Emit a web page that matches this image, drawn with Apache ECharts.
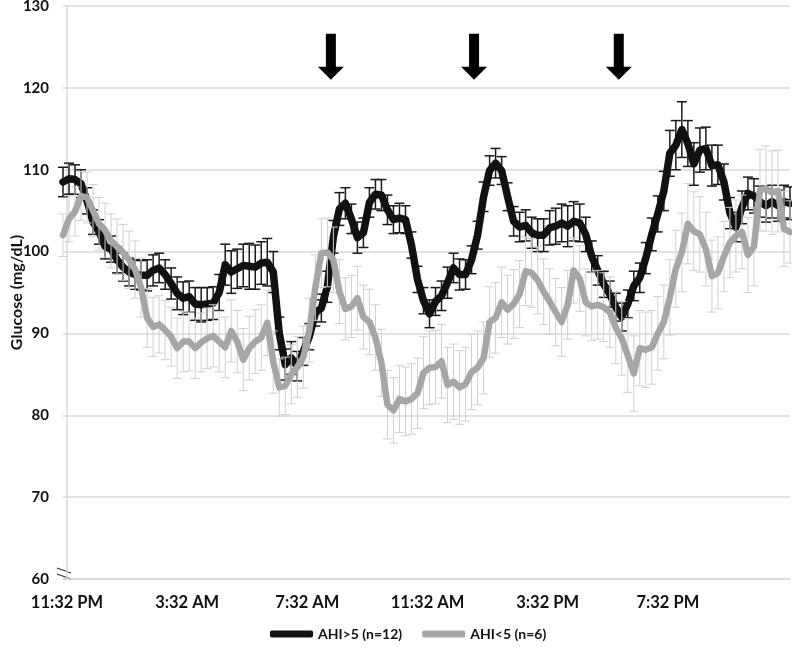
<!DOCTYPE html>
<html><head><meta charset="utf-8">
<script src="https://cdn.jsdelivr.net/npm/echarts@6/dist/echarts.min.js"></script>
<style>html,body{margin:0;padding:0;background:#fff}#c{width:792px;height:647px}</style>
</head><body><div id="c"></div>
<script>
// minutes relative to 11:32 PM; samples every 12 minutes starting at 11:24 PM
const startMinute = -8;
const stepMinutes = 12;
const xTickMinutes = [0, 240, 480, 720, 960, 1200];
const xTickLabels = ['11:32 PM', '3:32 AM', '7:32 AM', '11:32 AM', '3:32 PM', '7:32 PM'];
const yTicks = [60, 70, 80, 90, 100, 110, 120, 130];

const seriesNames = ['AHI>5 (n=12)', 'AHI<5 (n=6)'];

const ahiHigh = [
 108.5,108.9,108.8,108.3,106.2,103.6,102.4,100.6,100.3,99.0,
 98.1,97.5,97.2,97.1,97.1,97.7,98.0,97.2,96.1,94.9,
 94.3,94.5,93.6,93.5,93.6,93.7,95.0,98.4,97.5,97.9,
 98.3,98.2,98.1,98.6,98.7,97.5,90.0,86.2,87.0,86.0,
 87.8,89.6,92.5,93.1,95.7,101.8,105.2,105.9,104.0,101.7,
 102.3,106.0,107.0,106.9,105.1,103.9,104.1,103.9,100.8,96.6,
 94.0,92.4,93.9,94.6,96.2,98.0,97.2,97.2,99.0,102.0,
 106.7,109.9,110.8,109.9,106.7,103.7,103.0,103.2,102.3,102.0,
 102.0,102.9,103.1,103.5,103.1,103.7,103.5,102.1,99.4,97.7,
 96.0,94.8,93.2,92.0,93.6,95.8,96.8,99.2,102.1,104.6,
 107.4,112.0,113.0,114.9,113.2,110.7,112.4,112.6,110.5,110.6,
 108.5,104.7,103.0,105.4,107.1,106.8,106.1,105.6,106.1,105.6,
 106.1,105.9
];
const ahiHighSem = [
 1.8,1.9,1.8,1.7,1.6,1.5,1.5,1.5,1.6,1.6,
 1.7,1.7,1.8,1.8,1.9,1.9,1.8,1.8,1.9,2.0,
 2.0,1.9,2.0,2.1,2.0,2.0,2.2,2.5,2.6,2.4,
 2.6,2.8,2.7,2.6,2.9,2.5,2.0,1.9,2.0,1.8,
 1.7,1.6,1.6,1.7,1.9,2.0,2.0,1.9,1.8,1.9,
 1.8,1.8,1.8,1.9,1.8,1.7,1.8,1.7,1.6,1.6,
 1.6,1.7,1.7,1.8,1.9,1.8,1.9,1.8,1.7,1.7,
 1.8,1.8,1.8,1.7,1.7,1.8,1.8,1.9,1.9,2.0,
 2.0,2.1,2.2,2.3,2.5,2.4,2.3,2.1,1.9,1.8,
 1.6,1.6,1.7,1.7,1.7,1.8,1.8,1.9,2.0,2.2,
 2.4,2.8,3.0,3.4,2.8,2.6,2.7,2.6,2.5,2.4,
 2.2,1.9,1.8,2.0,2.0,2.1,1.9,2.0,2.0,1.9,
 2.0,2.0
];
const ahiLow = [
 102.0,104.0,104.9,106.8,106.6,105.0,103.4,102.6,101.3,100.6,
 99.9,99.0,97.8,95.6,91.9,90.8,91.1,90.4,89.6,88.2,
 89.0,89.0,88.2,88.9,89.4,89.7,89.0,88.3,90.3,89.0,
 86.8,88.2,89.0,89.5,91.3,86.5,83.4,83.6,85.0,85.9,
 87.1,90.4,95.6,99.8,99.9,99.0,95.1,93.0,93.3,94.3,
 92.0,91.4,89.5,86.4,81.3,80.6,82.0,81.7,82.0,82.7,
 85.2,85.8,85.9,86.6,83.7,84.1,83.4,83.8,85.3,85.8,
 87.0,91.4,91.9,93.8,92.9,93.6,94.8,97.6,97.4,96.5,
 95.1,93.9,92.6,91.4,93.5,97.7,96.7,93.8,93.3,93.5,
 93.2,92.6,90.7,89.4,87.3,85.1,88.2,88.0,88.3,90.0,
 91.4,94.4,97.9,99.9,103.4,102.5,102.1,100.3,97.0,97.4,
 99.4,101.1,101.9,102.4,99.6,100.6,107.5,107.7,107.2,107.4,
 102.8,102.4
];
const ahiLowSem = [
 2.6,2.8,3.0,3.0,3.1,3.2,3.2,3.3,3.3,3.4,
 3.4,3.5,3.5,3.6,3.6,3.6,3.5,3.6,3.6,3.7,
 3.7,3.6,3.7,3.6,3.7,3.8,3.7,3.7,3.8,3.8,
 3.8,3.9,3.9,4.0,4.0,3.8,3.5,3.5,3.6,3.7,
 3.8,3.9,4.0,4.2,4.2,4.0,3.9,3.8,3.8,3.9,
 3.9,4.0,4.0,4.1,4.2,4.0,4.1,4.2,4.3,4.3,
 4.4,4.5,4.5,4.5,4.6,4.6,4.5,4.5,4.6,4.5,
 4.4,4.3,4.3,4.3,4.2,4.2,4.1,4.2,4.2,4.1,
 4.0,4.0,4.1,4.2,4.2,4.0,4.0,4.1,4.2,4.2,
 4.2,4.3,4.4,4.5,4.5,4.6,4.6,4.6,4.5,4.5,
 4.5,4.6,4.7,4.8,4.9,4.8,4.6,4.5,4.4,4.4,
 4.3,4.3,4.4,4.5,4.6,4.8,5.0,5.2,5.1,5.0,
 4.6,3.8
];
// meal arrows (minutes after 11:32 PM) and their height on the glucose scale
const arrowMinutes = [527, 813, 1102];
const arrowLevel = 123.8;

const times = ahiHigh.map((_, i) => startMinute + i * stepMinutes);
const FONT = 'Lato';

function errRender(capHalf, color, width) {
  return function (params, api) {
    const x = api.value(0), v = api.value(1), e = api.value(2);
    const t = api.coord([x, v + e]);
    const b = api.coord([x, v - e]);
    const st = { stroke: color, lineWidth: width };
    return { type: 'group', children: [
      { type: 'line', shape: { x1: t[0], y1: t[1], x2: b[0], y2: b[1] }, style: st },
      { type: 'line', shape: { x1: t[0] - capHalf, y1: t[1], x2: t[0] + capHalf, y2: t[1] }, style: st },
      { type: 'line', shape: { x1: b[0] - capHalf, y1: b[1], x2: b[0] + capHalf, y2: b[1] }, style: st }
    ]};
  };
}

const chart = echarts.init(document.getElementById('c'), null, { renderer: 'canvas' });
chart.setOption({
  animation: false,
  backgroundColor: '#fff',
  grid: { left: 63, right: 2, top: 6, bottom: 68, containLabel: false, outerBoundsMode: 'none' },
  legend: {
    data: seriesNames,
    bottom: 1,
    left: 265,
    icon: 'roundRect',
    itemWidth: 43,
    itemHeight: 7,
    itemGap: 20,
    textStyle: { fontFamily: FONT, fontWeight: 'bold', fontSize: 14, color: '#111' }
  },
  xAxis: {
    type: 'value',
    min: startMinute,
    max: times[times.length - 1],
    axisLine: { show: true, lineStyle: { color: '#d9d9d9', width: 1.5 } },
    axisTick: { show: false },
    splitLine: { show: false },
    axisLabel: {
      customValues: xTickMinutes,
      formatter: v => xTickLabels[xTickMinutes.indexOf(v)] || '',
      fontFamily: FONT, fontWeight: 'bold', fontSize: 16.5, color: '#111', margin: 15
    }
  },
  yAxis: {
    type: 'value',
    min: 60, max: 130, interval: 10,
    name: 'Glucose (mg/dL)',
    nameLocation: 'middle',
    nameRotate: 90,
    nameGap: 38,
    nameMoveOverlap: false,
    nameTextStyle: { fontFamily: FONT, fontWeight: 'bold', fontSize: 16, color: '#111' },
    axisLine: { show: true, lineStyle: { color: '#d9d9d9', width: 1.5 } },
    axisTick: { show: false },
    splitLine: { show: true, lineStyle: { color: '#d9d9d9', width: 1.5 } },
    axisLabel: { fontFamily: FONT, fontWeight: 'bold', fontSize: 15, color: '#111', margin: 14 }
  },
  series: [
    {
      name: 'semHigh', type: 'custom', z: 1, silent: true,
      renderItem: errRender(5, '#1a1a1a', 1.5),
      encode: { x: 0, y: 1 },
      data: times.map((t, i) => [t, ahiHigh[i], ahiHighSem[i]])
    },
    {
      name: seriesNames[0], type: 'line', z: 2,
      showSymbol: false, symbol: 'none',
      color: '#111',
      lineStyle: { color: '#111', width: 7.5, cap: 'round', join: 'round' },
      data: times.map((t, i) => [t, ahiHigh[i]]),
      markPoint: {
        symbol: 'path://M8,0 L18,0 L18,33 L26,33 L13,46 L0,33 L8,33 Z',
        symbolSize: [26, 46],
        itemStyle: { color: '#000' },
        label: { show: false },
        data: arrowMinutes.map(m => ({ coord: [m, arrowLevel] }))
      }
    },
    {
      name: 'semLow', type: 'custom', z: 3, silent: true,
      renderItem: errRender(4.5, '#cfcfcf', 1),
      encode: { x: 0, y: 1 },
      data: times.map((t, i) => [t, ahiLow[i], ahiLowSem[i]])
    },
    {
      name: seriesNames[1], type: 'line', z: 4,
      showSymbol: false, symbol: 'none',
      color: '#a6a6a6',
      lineStyle: { color: '#a6a6a6', width: 6.5, cap: 'round', join: 'round' },
      data: times.map((t, i) => [t, ahiLow[i]])
    }
  ]
});

// axis break mark at the bottom of the value axis
const p = chart.convertToPixel({ xAxisIndex: 0, yAxisIndex: 0 }, [startMinute, yTicks[0]]);
chart.setOption({
  graphic: [
    { type: 'line', shape: { x1: p[0] - 6, y1: p[1] - 11, x2: p[0] + 8, y2: p[1] - 6 }, style: { stroke: '#333', lineWidth: 1.2 } },
    { type: 'line', shape: { x1: p[0] - 6, y1: p[1] - 5, x2: p[0] + 8, y2: p[1] } , style: { stroke: '#333', lineWidth: 1.2 } }
  ]
});
</script>
</body></html>
